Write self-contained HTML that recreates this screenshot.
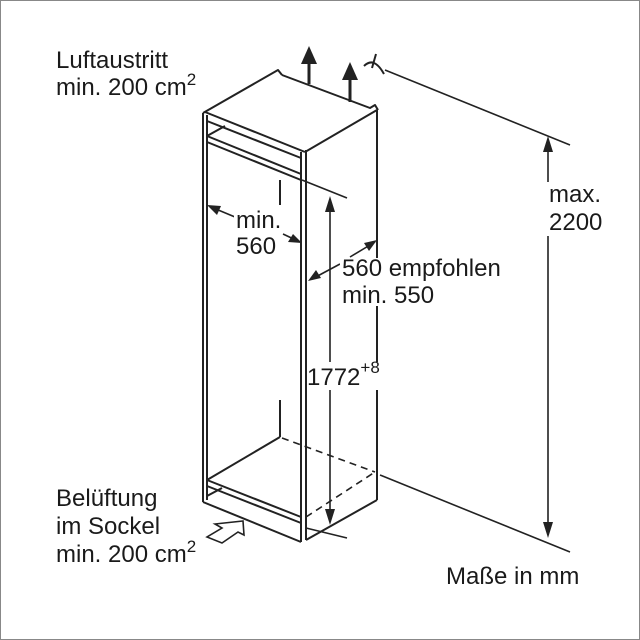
<!DOCTYPE html>
<html><head><style>
html,body{margin:0;padding:0;background:#fff}
svg{display:block}
text{font-family:"Liberation Sans",sans-serif;font-size:24px;fill:#1a1a1a}
</style></head><body>
<svg width="640" height="640" viewBox="0 0 640 640">
<rect x="0.5" y="0.5" width="639" height="639" fill="#fff" stroke="#888"/>
<g stroke="#222" stroke-width="2" fill="none" stroke-linejoin="round">
<polyline points="203,113 278,70 282,75"/>
<polyline points="282,75 370,108 375,105 378,110"/>
<line x1="205" y1="112" x2="305" y2="152"/>
<line x1="305" y1="152" x2="377" y2="110"/>
<line x1="203" y1="113" x2="203" y2="502"/>
<line x1="207" y1="115" x2="207" y2="500"/>
<line x1="301" y1="152" x2="301" y2="542"/>
<line x1="306" y1="150" x2="306" y2="540"/>
<line x1="377" y1="110" x2="377" y2="500"/>
<line x1="207" y1="121" x2="301" y2="158"/>
<line x1="207" y1="136" x2="301" y2="174"/>
<line x1="207" y1="142" x2="301" y2="180"/>
<line x1="207" y1="136" x2="225" y2="126"/>
<line x1="207" y1="480" x2="280" y2="437"/>
<line x1="207" y1="480" x2="301" y2="517"/>
<line x1="207" y1="486" x2="301" y2="523"/>
<line x1="207" y1="496" x2="222" y2="488"/>
<line x1="203" y1="502" x2="301" y2="542"/>
<line x1="306" y1="540" x2="377" y2="500"/>
<line x1="280" y1="437" x2="280" y2="400"/>
<line x1="280" y1="180" x2="280" y2="205"/>
</g>
<g stroke="#222" stroke-width="1.6" fill="none">
<line x1="282" y1="438" x2="375" y2="472" stroke-dasharray="7,5"/>
<line x1="306" y1="517" x2="375" y2="472" stroke-dasharray="7,5"/>
<line x1="302" y1="180" x2="347" y2="198"/>
<line x1="306" y1="528" x2="347" y2="538"/>
<line x1="385" y1="70" x2="570" y2="145"/>
<line x1="380" y1="475" x2="570" y2="552"/>
<line x1="330" y1="200" x2="330" y2="522"/>
<line x1="548" y1="140" x2="548" y2="535"/>
<line x1="211" y1="207" x2="235" y2="217"/>
<line x1="283" y1="234" x2="300" y2="242"/>
<line x1="312" y1="279" x2="340" y2="264"/>
<line x1="350" y1="257" x2="375" y2="242"/>
</g>
<g fill="#222">
<polygon points="330,196 325,212 335,212"/>
<polygon points="330,525 325,509 335,509"/>
<polygon points="548,136 543,152 553,152"/>
<polygon points="548,538 543,522 553,522"/>
<polygon points="207,205 221,206 217,215"/>
<polygon points="302,243 288,242 293,234"/>
<polygon points="308,281 316,270 321,278"/>
<polygon points="377,240 369,251 364,243"/>
<rect x="307.5" y="60" width="3" height="24"/>
<polygon points="309,46 301,64 317,64"/>
<rect x="348.5" y="76" width="3" height="26"/>
<polygon points="350,62 342,80 358,80"/>
</g>
<g stroke="#222" stroke-width="2" fill="none">
<path d="M364,66 Q374,56 384,74"/>
<line x1="376" y1="54" x2="372" y2="68"/>
<polygon points="215,524 243,521 244,535 238,532 222,543 207,537 222,528" stroke-width="1.6" fill="#fff"/>
</g>
<g fill="#fff">
<rect x="340" y="258" width="180" height="48"/>
<rect x="307" y="362" width="80" height="28"/>
<rect x="234" y="208" width="48" height="50"/>
<rect x="546" y="182" width="60" height="54"/>
</g>
<text x="56" y="68">Luftaustritt</text>
<text x="56" y="95">min. 200 cm<tspan dy="-10" font-size="17">2</tspan></text>
<text x="236" y="228">min.</text>
<text x="236" y="254">560</text>
<text x="342" y="276">560 empfohlen</text>
<text x="342" y="303">min. 550</text>
<text x="307" y="385">1772<tspan dy="-12" font-size="17">+8</tspan></text>
<text x="549" y="202">max.</text>
<text x="549" y="230">2200</text>
<text x="56" y="506">Belüftung</text>
<text x="56" y="534">im Sockel</text>
<text x="56" y="562">min. 200 cm<tspan dy="-10" font-size="17">2</tspan></text>
<text x="446" y="584">Maße in mm</text>
</svg>
</body></html>
